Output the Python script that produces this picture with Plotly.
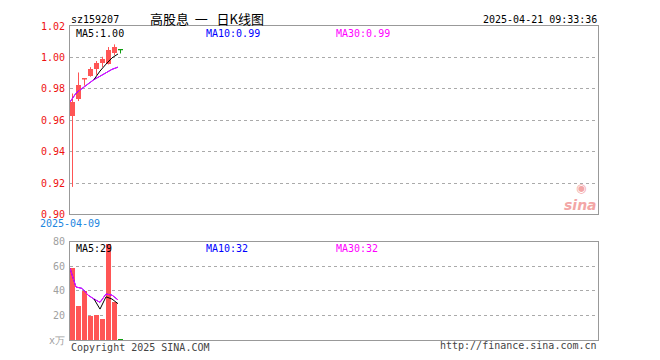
import plotly.graph_objects as go

# ---------------- data ----------------
dates = ["2025-04-09", "2025-04-10", "2025-04-11", "2025-04-14", "2025-04-15",
         "2025-04-16", "2025-04-17", "2025-04-18", "2025-04-21"]
opens = [0.9629, 0.9733, 0.9864, 0.9883, 0.9927, 0.9966, 0.9961, 1.0025, 1.0050]
closes = [0.9716, 0.9827, 0.9864, 0.9925, 0.9963, 0.9988, 1.0046, 1.0064, 1.0050]
highs = [0.9770, 0.9904, 0.9864, 0.9938, 0.9977, 1.0004, 1.0066, 1.0083, 1.0050]
lows = [0.9175, 0.9722, 0.9820, 0.9877, 0.9889, 0.9938, 0.9955, 1.0014, 1.0025]
ma5 = [None, None, None, None, 0.9859, 0.9913, 0.9957, 0.9997, 1.0022]
ma10 = [0.9716, 0.9772, 0.9802, 0.9833, 0.9859, 0.9880, 0.9904, 0.9924, 0.9938]
ma30 = [0.9716, 0.9772, 0.9802, 0.9833, 0.9859, 0.9880, 0.9904, 0.9924, 0.9938]

volumes = [58.4, 28.0, 40.0, 20.0, 20.8, 17.0, 78.4, 30.7, 1.0]
vol_ma5 = [None, None, None, None, 33.4, 25.2, 35.2, 33.4, 29.6]
vol_ma10 = [58.4, 43.2, 42.1, 36.6, 33.4, 30.7, 37.5, 36.6, 32.7]
vol_ma30 = [58.4, 43.2, 42.1, 36.6, 33.4, 30.7, 37.5, 36.6, 32.7]

price_ticks = [0.90, 0.92, 0.94, 0.96, 0.98, 1.00, 1.02]
vol_ticks = [0, 20, 40, 60, 80]
vol_tick_text = ["x万", "20", "40", "60", "80"]

code = "sz159207"
title = "高股息\u00a0\u00a0一\u00a0\u00a0\u00a0日K线图"
stamp = "2025-04-21 09:33:36"
price_legend = ["MA5:1.00", "MA10:0.99", "MA30:0.99"]
vol_legend = ["MA5:29", "MA10:32", "MA30:32"]

# ---------------- styling ----------------
RED = "#ff5555"
GREEN = "#109e10"
GRID = "#aaaaaa"
BORDER = "#999999"
MONO = "DejaVu Sans Mono"
SLOTS = 88
HALF = 0.4167  # half a candle body, in slots
PAGE_OFF = 8   # default body margin of the html page

idx = list(range(len(dates)))
line_x = [i - HALF for i in idx]

def color_of(i):
    prev = closes[i - 1] if i > 0 else opens[i]
    if closes[i] > prev or (i == 0 and closes[i] >= opens[i]):
        return RED
    return GREEN

colors = [color_of(i) for i in idx]

fig = go.Figure()

# wicks
for col in (RED, GREEN):
    wx, wy = [], []
    for i in idx:
        if colors[i] == col:
            wx += [i, i, None]
            wy += [lows[i], highs[i], None]
    fig.add_trace(go.Scatter(x=wx, y=wy, mode="lines", line=dict(color=col, width=1),
                             hoverinfo="skip", showlegend=False, xaxis="x", yaxis="y"))

# bodies
body_base = [min(o, c) for o, c in zip(opens, closes)]
body_h = [abs(c - o) for o, c in zip(opens, closes)]
fig.add_trace(go.Bar(x=idx, y=body_h, base=body_base, width=2 * HALF,
                     marker=dict(color=colors, line=dict(width=0)),
                     showlegend=False, xaxis="x", yaxis="y"))

# doji (open == close) as short horizontal strokes
for col in (RED, GREEN):
    dx, dy = [], []
    for i in idx:
        if opens[i] == closes[i] and colors[i] == col:
            dx += [i - HALF, i + HALF, None]
            dy += [opens[i], opens[i], None]
    if dx:
        fig.add_trace(go.Scatter(x=dx, y=dy, mode="lines", line=dict(color=col, width=1.3),
                                 showlegend=False, xaxis="x", yaxis="y"))

# moving averages (price)
for vals, col in ((ma10, "#0000ff"), (ma30, "#ff00ff"), (ma5, "#000000")):
    fig.add_trace(go.Scatter(x=line_x, y=vals, mode="lines", line=dict(color=col, width=1),
                             showlegend=False, xaxis="x", yaxis="y"))

# volume
fig.add_trace(go.Bar(x=idx, y=volumes, width=2 * HALF,
                     marker=dict(color=colors, line=dict(width=0)),
                     showlegend=False, xaxis="x2", yaxis="y2"))
for vals, col in ((vol_ma10, "#0000ff"), (vol_ma30, "#ff00ff"), (vol_ma5, "#000000")):
    fig.add_trace(go.Scatter(x=line_x, y=vals, mode="lines", line=dict(color=col, width=1),
                             showlegend=False, xaxis="x2", yaxis="y2"))

xr = [-HALF, SLOTS - HALF]
axis_common = dict(showline=True, mirror=True, linecolor=BORDER, linewidth=1,
                   zeroline=False, ticks="")

fig.update_layout(
    width=660 - PAGE_OFF, height=360 - PAGE_OFF,
    margin=dict(l=70 - PAGE_OFF, r=62, t=20 - PAGE_OFF, b=20),
    paper_bgcolor="white", plot_bgcolor="white",
    bargap=0,
    xaxis=dict(domain=[0, 1], range=xr, anchor="y", showgrid=False,
               tickvals=[line_x[0]], ticktext=[dates[0]],
               tickfont=dict(family=MONO, size=10, color="#1c86e0"), **axis_common),
    yaxis=dict(domain=[0.4, 1], range=[0.90, 1.02], anchor="x",
               tickvals=price_ticks, tickformat=".2f",
               tickfont=dict(family=MONO, size=10, color="#ee1111"),
               showgrid=True, gridcolor=GRID, griddash="dot", gridwidth=1,
               ticklabelstandoff=2, **axis_common),
    xaxis2=dict(domain=[0, 1], range=xr, anchor="y2", showgrid=False,
                showticklabels=False, **axis_common),
    yaxis2=dict(domain=[0, 0.3125], range=[0, 80], anchor="x2",
                tickvals=vol_ticks, ticktext=vol_tick_text,
                tickfont=dict(family=MONO, size=10, color="#a0a0a0"),
                showgrid=True, gridcolor=GRID, griddash="dot", gridwidth=1,
                ticklabelstandoff=2, **axis_common),
)

def txt(x, y, s, color="#000000", size=10, family=MONO, xanchor="left", **kw):
    fig.add_annotation(x=x, y=y, xref="paper", yref="paper", text=s, showarrow=False,
                       xanchor=xanchor, yanchor="middle", borderpad=0,
                       font=dict(family=family, size=size, color=color), **kw)

# page pixel -> paper coords (plot area spans x 70..598, y 20..340 on the page)
def py(pix):
    return (340 - pix) / 320.0

def px(pix):
    return (pix - 70) / 528.0

txt(px(70), py(13), code)
txt(px(149), py(12), title, family="Noto Sans CJK SC", size=13)
txt(px(598), py(13), stamp, xanchor="right")

leg_cols = ["#000000", "#0000ff", "#ff00ff"]
leg_x = [75, 205, 335]
for s, c, x in zip(price_legend, leg_cols, leg_x):
    txt(px(x), py(27.5), s, color=c)
for s, c, x in zip(vol_legend, leg_cols, leg_x):
    txt(px(x), py(247), s, color=c)

txt(px(70), py(348), "Copyright 2025 SINA.COM", color="#444444")
txt(px(598), py(346), "http://finance.sina.com.cn", color="#444444", xanchor="right")

# sina watermark
fig.add_annotation(x=px(598), y=py(202), xref="paper", yref="paper", text="<b><i>sina</i></b>",
                   showarrow=False, xanchor="right", yanchor="middle", borderpad=0,
                   font=dict(family="DejaVu Sans", size=14, color="#f3a6a6"))
fig.add_annotation(x=px(581), y=py(185), xref="paper", yref="paper", text="◉",
                   showarrow=False, xanchor="center", yanchor="middle", borderpad=0,
                   font=dict(family="DejaVu Sans", size=12, color="#f3a6a6"))

fig.write_html("out.html")
